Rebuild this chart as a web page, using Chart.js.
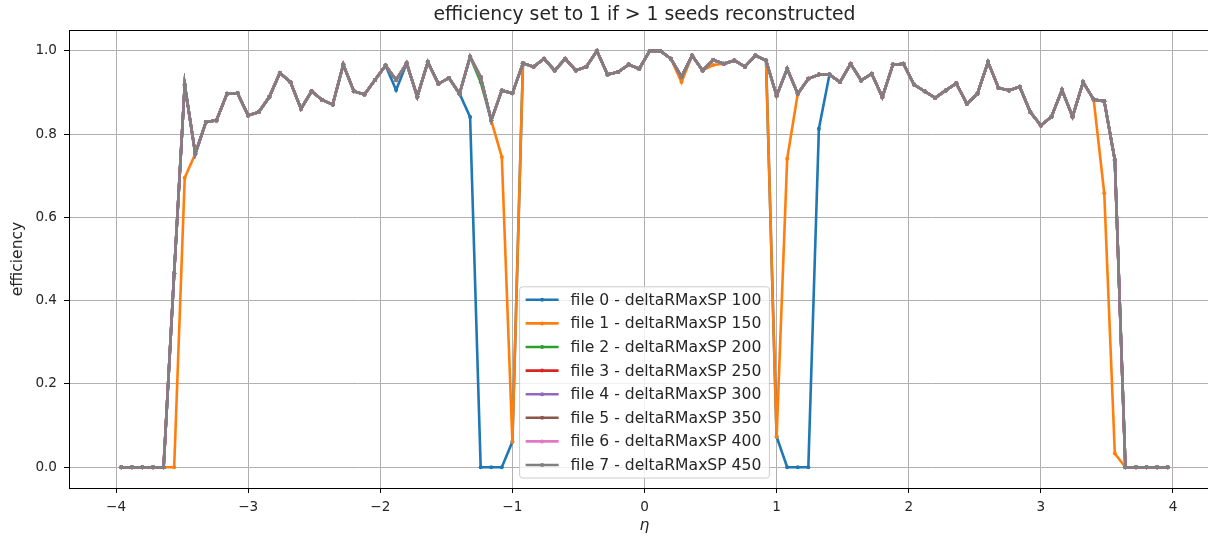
<!DOCTYPE html>
<html>
<head>
<meta charset="utf-8">
<title>efficiency vs eta</title>
<script src="https://cdn.jsdelivr.net/npm/chart.js@4/dist/chart.umd.min.js"></script>
<style>
html, body { margin: 0; padding: 0; background: #fff; overflow: hidden; }
#wrap { width: 1240px; height: 536px; }
</style>
</head>
<body>
<div id="wrap"><canvas id="effChart" width="1240" height="536"></canvas></div>
<script>
// eta bin centres (100 bins of 0.08 between -4 and 4)
var etaBins = [
  -3.96, -3.88, -3.80, -3.72, -3.64, -3.56, -3.48, -3.40, -3.32, -3.24,
  -3.16, -3.08, -3.00, -2.92, -2.84, -2.76, -2.68, -2.60, -2.52, -2.44,
  -2.36, -2.28, -2.20, -2.12, -2.04, -1.96, -1.88, -1.80, -1.72, -1.64,
  -1.56, -1.48, -1.40, -1.32, -1.24, -1.16, -1.08, -1.00, -0.92, -0.84,
  -0.76, -0.68, -0.60, -0.52, -0.44, -0.36, -0.28, -0.20, -0.12, -0.04,
   0.04,  0.12,  0.20,  0.28,  0.36,  0.44,  0.52,  0.60,  0.68,  0.76,
   0.84,  0.92,  1.00,  1.08,  1.16,  1.24,  1.32,  1.40,  1.48,  1.56,
   1.64,  1.72,  1.80,  1.88,  1.96,  2.04,  2.12,  2.20,  2.28,  2.36,
   2.44,  2.52,  2.60,  2.68,  2.76,  2.84,  2.92,  3.00,  3.08,  3.16,
   3.24,  3.32,  3.40,  3.48,  3.56,  3.64,  3.72,  3.80,  3.88,  3.96
];

// deltaRMaxSP = 100
var effFile0 = [
  0, 0, 0, 0, 0, 0.466, 0.918, 0.753, 0.829, 0.833,
  0.897, 0.898, 0.845, 0.853, 0.889, 0.947, 0.925, 0.861, 0.903, 0.882,
  0.871, 0.967, 0.903, 0.895, 0.930, 0.965, 0.906, 0.970, 0.890, 0.973,
  0.921, 0.935, 0.897, 0.841, 0, 0, 0, 0.061, 0.970, 0.962,
  0.981, 0.953, 0.981, 0.953, 0.962, 1.000, 0.943, 0.949, 0.967, 0.957,
  1.000, 1.000, 0.981, 0.938, 0.989, 0.953, 0.978, 0.969, 0.977, 0.962,
  0.989, 0.977, 0.073, 0, 0, 0, 0.813, 0.943, 0.925, 0.969,
  0.929, 0.945, 0.889, 0.967, 0.969, 0.919, 0.903, 0.887, 0.905, 0.922,
  0.873, 0.897, 0.973, 0.911, 0.905, 0.914, 0.853, 0.821, 0.842, 0.906,
  0.842, 0.925, 0.883, 0.879, 0.738, 0, 0, 0, 0, 0
];

// deltaRMaxSP = 150
var effFile1 = [
  0, 0, 0, 0, 0, 0, 0.695, 0.753, 0.829, 0.833,
  0.897, 0.898, 0.845, 0.853, 0.889, 0.947, 0.925, 0.861, 0.903, 0.882,
  0.871, 0.967, 0.903, 0.895, 0.930, 0.965, 0.930, 0.970, 0.890, 0.973,
  0.921, 0.935, 0.897, 0.986, 0.937, 0.833, 0.745, 0.061, 0.970, 0.962,
  0.981, 0.953, 0.981, 0.953, 0.962, 1.000, 0.943, 0.949, 0.967, 0.957,
  1.000, 1.000, 0.981, 0.925, 0.989, 0.953, 0.966, 0.969, 0.977, 0.962,
  0.989, 0.977, 0.073, 0.741, 0.897, 0.933, 0.943, 0.943, 0.925, 0.969,
  0.929, 0.945, 0.889, 0.967, 0.969, 0.919, 0.903, 0.887, 0.905, 0.922,
  0.873, 0.897, 0.973, 0.911, 0.905, 0.914, 0.853, 0.821, 0.842, 0.906,
  0.842, 0.925, 0.883, 0.658, 0.033, 0, 0, 0, 0, 0
];

// deltaRMaxSP = 200
var effFile2 = [
  0, 0, 0, 0, 0, 0.466, 0.918, 0.753, 0.829, 0.833,
  0.897, 0.898, 0.845, 0.853, 0.889, 0.947, 0.925, 0.861, 0.903, 0.882,
  0.871, 0.967, 0.903, 0.895, 0.930, 0.965, 0.930, 0.970, 0.890, 0.973,
  0.921, 0.935, 0.897, 0.986, 0.925, 0.833, 0.905, 0.898, 0.970, 0.962,
  0.981, 0.953, 0.981, 0.953, 0.962, 1.000, 0.943, 0.949, 0.967, 0.957,
  1.000, 1.000, 0.981, 0.938, 0.989, 0.953, 0.978, 0.969, 0.977, 0.962,
  0.989, 0.977, 0.892, 0.957, 0.897, 0.933, 0.943, 0.943, 0.925, 0.969,
  0.929, 0.945, 0.889, 0.967, 0.969, 0.919, 0.903, 0.887, 0.905, 0.922,
  0.873, 0.897, 0.973, 0.911, 0.905, 0.914, 0.853, 0.821, 0.842, 0.906,
  0.842, 0.925, 0.883, 0.879, 0.738, 0, 0, 0, 0, 0
];

// deltaRMaxSP = 450 (250..400 give the same efficiencies)
var effFile7 = [
  0, 0, 0, 0, 0, 0.466, 0.918, 0.753, 0.829, 0.833,
  0.897, 0.898, 0.845, 0.853, 0.889, 0.947, 0.925, 0.861, 0.903, 0.882,
  0.871, 0.967, 0.903, 0.895, 0.930, 0.965, 0.930, 0.970, 0.890, 0.973,
  0.921, 0.935, 0.897, 0.986, 0.937, 0.833, 0.905, 0.898, 0.970, 0.962,
  0.981, 0.953, 0.981, 0.953, 0.962, 1.000, 0.943, 0.949, 0.967, 0.957,
  1.000, 1.000, 0.981, 0.938, 0.989, 0.953, 0.978, 0.969, 0.977, 0.962,
  0.989, 0.977, 0.892, 0.957, 0.897, 0.933, 0.943, 0.943, 0.925, 0.969,
  0.929, 0.945, 0.889, 0.967, 0.969, 0.919, 0.903, 0.887, 0.905, 0.922,
  0.873, 0.897, 0.973, 0.911, 0.905, 0.914, 0.853, 0.821, 0.842, 0.906,
  0.842, 0.925, 0.883, 0.879, 0.738, 0, 0, 0, 0, 0
];
var effFile3 = effFile7.slice();
var effFile4 = effFile7.slice();
var effFile5 = effFile7.slice();
var effFile6 = effFile7.slice();

var deltaRMaxSP = [100, 150, 200, 250, 300, 350, 400, 450];
var effFiles = [effFile0, effFile1, effFile2, effFile3, effFile4, effFile5, effFile6, effFile7];
var lineColors = ['#1f77b4', '#ff7f0e', '#2ca02c', '#d62728', '#9467bd', '#8c564b', '#e377c2', '#7f7f7f'];

var xTicks = [-4, -3, -2, -1, 0, 1, 2, 3, 4];
var yTicks = [0.0, 0.2, 0.4, 0.6, 0.8, 1.0];

var FONT = '"DejaVu Sans", "Liberation Sans", sans-serif';
var TXT = '#262626';

var datasets = effFiles.map(function(eff, i) {
  return {
    label: 'file ' + i + ' - deltaRMaxSP ' + deltaRMaxSP[i],
    data: eff.map(function(v, k) { return {x: etaBins[k], y: v}; }),
    borderColor: lineColors[i],
    backgroundColor: lineColors[i],
    borderWidth: 2.6,
    pointRadius: 2,
    pointBorderWidth: 0,
    tension: 0,
    order: effFiles.length - 1 - i   // last file on top, like matplotlib
  };
});

// top/right spines of the axes box
var frameBox = {
  id: 'frameBox',
  afterDatasetsDraw: function(chart) {
    var a = chart.chartArea, ctx = chart.ctx;
    ctx.save();
    ctx.strokeStyle = '#000';
    ctx.lineWidth = 1;
    ctx.strokeRect(Math.round(a.left) + 0.5, Math.round(a.top) + 0.5,
                   Math.round(a.right - a.left), Math.round(a.bottom - a.top));
    ctx.restore();
  }
};

// matplotlib style legend, lower centre of the axes
var legendBox = {
  id: 'legendBox',
  afterDraw: function(chart) {
    var ctx = chart.ctx, a = chart.chartArea;
    var sets = chart.data.datasets;
    var fs = 15.6;
    ctx.save();
    ctx.font = fs + 'px ' + FONT;
    var textW = 0;
    sets.forEach(function(ds) { textW = Math.max(textW, ctx.measureText(ds.label).width); });
    var rowH = 23.6, padL = 6, handle = 33, gap = 12, padR = 8, edge = 13;
    var w = padL + handle + gap + textW + padR;
    var h = edge * 2 + rowH * (sets.length - 1);
    var x0 = (a.left + a.right) / 2 - w / 2;
    var y0 = a.bottom - 10 - h;
    var r = 3;
    ctx.beginPath();
    ctx.moveTo(x0 + r, y0);
    ctx.lineTo(x0 + w - r, y0);
    ctx.arcTo(x0 + w, y0, x0 + w, y0 + r, r);
    ctx.lineTo(x0 + w, y0 + h - r);
    ctx.arcTo(x0 + w, y0 + h, x0 + w - r, y0 + h, r);
    ctx.lineTo(x0 + r, y0 + h);
    ctx.arcTo(x0, y0 + h, x0, y0 + h - r, r);
    ctx.lineTo(x0, y0 + r);
    ctx.arcTo(x0, y0, x0 + r, y0, r);
    ctx.closePath();
    ctx.fillStyle = 'rgba(255,255,255,0.8)';
    ctx.fill();
    ctx.strokeStyle = '#cccccc';
    ctx.lineWidth = 1;
    ctx.stroke();

    ctx.textBaseline = 'middle';
    ctx.textAlign = 'left';
    sets.forEach(function(ds, i) {
      var cy = y0 + edge + i * rowH;
      var hx = x0 + padL;
      ctx.strokeStyle = ds.borderColor;
      ctx.lineWidth = 2.6;
      ctx.beginPath();
      ctx.moveTo(hx, cy);
      ctx.lineTo(hx + handle, cy);
      ctx.stroke();
      ctx.fillStyle = ds.borderColor;
      ctx.beginPath();
      ctx.arc(hx + handle / 2, cy, 2, 0, Math.PI * 2);
      ctx.fill();
      ctx.fillStyle = TXT;
      ctx.fillText(ds.label, hx + handle + gap, cy + 1);
    });
    ctx.restore();
  }
};

new Chart(document.getElementById('effChart'), {
  type: 'line',
  data: { datasets: datasets },
  options: {
    responsive: false,
    animation: false,
    devicePixelRatio: 1,
    layout: { padding: { left: 0, right: 20, top: 0, bottom: 0 } },
    plugins: {
      legend: { display: false },
      tooltip: { enabled: false },
      title: {
        display: true,
        fullSize: false,
        text: 'efficiency set to 1 if > 1 seeds reconstructed',
        color: TXT,
        font: { family: FONT, size: 18.8, weight: 'normal', lineHeight: 1.2 },
        padding: { top: 3.5, bottom: 4 }
      }
    },
    scales: {
      x: {
        type: 'linear',
        min: -4.356,
        max: 4.356,
        afterFit: function(s) { s.height = 48; },
        afterBuildTicks: function(s) { s.ticks = xTicks.map(function(v) { return {value: v}; }); },
        ticks: {
          color: TXT,
          font: { family: FONT, size: 13.6 },
          padding: 6,
          maxRotation: 0,
          callback: function(v) { return v < 0 ? '\u2212' + Math.abs(v) : String(v); }
        },
        grid: { color: '#b0b0b0', lineWidth: 1, tickColor: '#000', tickLength: 5 },
        border: { display: true, color: '#000', width: 1 },
        title: {
          display: true,
          text: '\u03b7',
          color: TXT,
          font: { family: FONT, size: 15.5, style: 'italic' },
          padding: { top: 0, bottom: 1 }
        }
      },
      y: {
        type: 'linear',
        min: -0.05,
        max: 1.05,
        afterFit: function(s) { s.width = 69; },
        afterBuildTicks: function(s) { s.ticks = yTicks.map(function(v) { return {value: v}; }); },
        ticks: {
          color: TXT,
          font: { family: FONT, size: 13.6 },
          padding: 7,
          callback: function(v) { return v.toFixed(1); }
        },
        grid: { color: '#b0b0b0', lineWidth: 1, tickColor: '#000', tickLength: 5 },
        border: { display: true, color: '#000', width: 1 },
        title: {
          display: true,
          text: 'efficiency',
          color: TXT,
          font: { family: FONT, size: 15.5 },
          padding: { top: 9, bottom: 0 }
        }
      }
    }
  },
  plugins: [frameBox, legendBox]
});
</script>
</body>
</html>
